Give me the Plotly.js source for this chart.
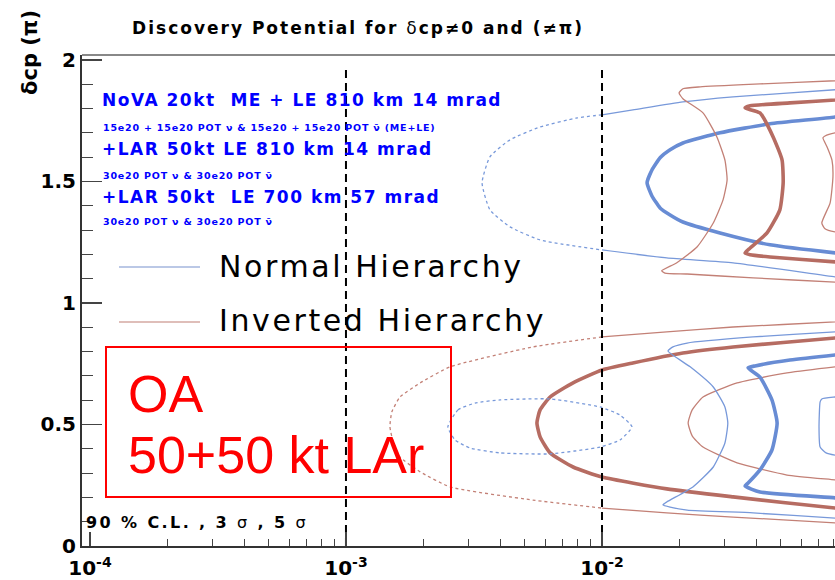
<!DOCTYPE html>
<html>
<head>
<meta charset="utf-8">
<script src="https://cdn.plot.ly/plotly-3.0.1.min.js"></script>
<style>
html, body { margin: 0; padding: 0; background: #fff; overflow: hidden; }
#chart { width: 835px; height: 580px; }
</style>
</head>
<body>
<div id="chart"></div>
<script>
// ---- Axis tick labels ----
const xTickVals = [1e-4, 1e-3, 1e-2];
const xTickText = ['10<sup>-4</sup>', '10<sup>-3</sup>', '10<sup>-2</sup>'];
const yTickVals = [0, 0.5, 1, 1.5, 2];
const yTickText = ['0', '0.5', '1', '1.5', '2'];

// Reference lines (sin^2 2theta13 = 1e-3, 1e-2)
const refLineX = [1e-3, 1e-2];
const refLineTop = 1.97;

// ---- Upper band (delta_cp ~ 1.5 pi) ----
// Normal hierarchy, 90% C.L.
const nhUp90X = [0.0889, 0.0813, 0.0325, 0.0207, 0.0132, 0.0100, 0.00798, 0.00573, 0.00437, 0.00365, 0.00340, 0.00365, 0.00437, 0.00573, 0.0100, 0.0179, 0.0325, 0.0813, 0.0889];
const nhUp90Y = [1.881, 1.877, 1.848, 1.827, 1.794, 1.774, 1.761, 1.724, 1.671, 1.601, 1.494, 1.383, 1.313, 1.259, 1.218, 1.185, 1.165, 1.107, 1.103];
// Normal hierarchy, 3 sigma
const nhUp3sX = [0.0889, 0.0813, 0.0453, 0.0289, 0.0207, 0.01845, 0.01686, 0.01567, 0.0150, 0.01567, 0.01686, 0.01845, 0.0207, 0.0289, 0.0453, 0.0813, 0.0889];
const nhUp3sY = [1.774, 1.765, 1.737, 1.700, 1.658, 1.630, 1.597, 1.547, 1.494, 1.440, 1.391, 1.362, 1.333, 1.288, 1.239, 1.206, 1.202];
// Inverted hierarchy, 90% C.L.
const ihUp90X = [0.0889, 0.0813, 0.0414, 0.0242, 0.0207, 0.0200, 0.0207, 0.0248, 0.0281, 0.0302, 0.0308, 0.0297, 0.0272, 0.0235, 0.0196, 0.0171, 0.0176, 0.0215, 0.0389, 0.0813, 0.0889];
const ihUp90Y = [1.918, 1.914, 1.901, 1.889, 1.881, 1.864, 1.840, 1.782, 1.683, 1.588, 1.506, 1.424, 1.329, 1.230, 1.165, 1.132, 1.123, 1.119, 1.103, 1.086, 1.086];
// Inverted hierarchy, 3 sigma
const ihUp3sX = [0.0889, 0.0813, 0.0542, 0.0379, 0.0362, 0.0414, 0.0466, 0.0505, 0.0510, 0.0495, 0.0441, 0.0379, 0.0362, 0.0379, 0.0453, 0.0813, 0.0889];
const ihUp3sY = [1.840, 1.835, 1.823, 1.811, 1.802, 1.782, 1.683, 1.588, 1.494, 1.383, 1.288, 1.226, 1.206, 1.198, 1.189, 1.169, 1.165];
// Inverted hierarchy, 5 sigma
const ihUp5sX = [0.0889, 0.0813, 0.0743, 0.0729, 0.0757, 0.0791, 0.0798, 0.0778, 0.0722, 0.0743, 0.0813, 0.0889];
const ihUp5sY = [1.704, 1.700, 1.687, 1.679, 1.642, 1.588, 1.519, 1.412, 1.329, 1.305, 1.292, 1.288];

// ---- Lower band (delta_cp ~ 0.5 pi) ----
// Normal hierarchy, small closed contour
const nhLoDotX = [0.00250, 0.00274, 0.00319, 0.00400, 0.00627, 0.00982, 0.01175, 0.0131, 0.01175, 0.00982, 0.00627, 0.00400, 0.00305, 0.00267, 0.00250];
const nhLoDotY = [0.490, 0.560, 0.588, 0.601, 0.605, 0.572, 0.539, 0.490, 0.436, 0.407, 0.379, 0.383, 0.403, 0.436, 0.490];
// Normal hierarchy, outer
const nhLo90X = [0.0889, 0.0813, 0.0389, 0.0215, 0.01892, 0.0181, 0.0221, 0.0272, 0.0302, 0.0310, 0.0302, 0.0272, 0.02265, 0.0179, 0.0173, 0.01845, 0.0215, 0.0389, 0.0813, 0.0889];
const nhLo90Y = [0.885, 0.881, 0.860, 0.835, 0.819, 0.802, 0.737, 0.654, 0.572, 0.506, 0.424, 0.325, 0.243, 0.181, 0.169, 0.160, 0.148, 0.136, 0.115, 0.115];
// Normal hierarchy, 3 sigma
const nhLo3sX = [0.0889, 0.0813, 0.0542, 0.0396, 0.0372, 0.0414, 0.0461, 0.0483, 0.0461, 0.0414, 0.0372, 0.0362, 0.0414, 0.0813, 0.0889];
const nhLo3sY = [0.790, 0.786, 0.765, 0.741, 0.733, 0.695, 0.601, 0.506, 0.395, 0.313, 0.259, 0.247, 0.222, 0.198, 0.193];
// Normal hierarchy, 5 sigma
const nhLo5sX = [0.0889, 0.0813, 0.0722, 0.0711, 0.0704, 0.0711, 0.0750, 0.0813, 0.0889];
const nhLo5sY = [0.617, 0.613, 0.605, 0.593, 0.490, 0.407, 0.383, 0.374, 0.370];
// Inverted hierarchy, 90% C.L.
const ihLo90X = [0.0889, 0.0813, 0.0325, 0.0179, 0.0100, 0.00537, 0.00255, 0.00195, 0.001625, 0.00151, 0.001485, 0.00153, 0.001625, 0.00195, 0.00255, 0.00537, 0.0100, 0.0179, 0.0325, 0.0813, 0.0889];
const ihLo90Y = [0.926, 0.922, 0.901, 0.881, 0.860, 0.819, 0.737, 0.671, 0.613, 0.551, 0.490, 0.428, 0.366, 0.305, 0.243, 0.189, 0.156, 0.136, 0.119, 0.095, 0.091];
// Inverted hierarchy, 3 sigma
const ihLo3sX = [0.0889, 0.0813, 0.0325, 0.0207, 0.0132, 0.0100, 0.00771, 0.00627, 0.00573, 0.00557, 0.00573, 0.00627, 0.00771, 0.0100, 0.0179, 0.0325, 0.0813, 0.0889];
const ihLo3sY = [0.860, 0.856, 0.819, 0.794, 0.753, 0.724, 0.671, 0.613, 0.560, 0.506, 0.449, 0.383, 0.325, 0.284, 0.235, 0.202, 0.156, 0.152];
// Inverted hierarchy, 5 sigma
const ihLo5sX = [0.0889, 0.0813, 0.0528, 0.0337, 0.0248, 0.0225, 0.0217, 0.0225, 0.0248, 0.0337, 0.0528, 0.0813, 0.0889];
const ihLo5sY = [0.741, 0.737, 0.712, 0.671, 0.613, 0.560, 0.506, 0.453, 0.407, 0.342, 0.292, 0.272, 0.267];

// ---- Styling ----
const BLUE = 'rgb(104,140,212)';
const BLUE_LT = 'rgb(120,153,218)';
const RED = 'rgb(182,108,98)';
const RED_LT = 'rgb(195,128,118)';
const THIN = 1.3, THICK = 3.6;

// contour list: [x, y, colour, width, dotted index range or null]
const contours = [
  [nhUp90X, nhUp90Y, BLUE_LT, THIN, [5, 14]],
  [nhUp3sX, nhUp3sY, BLUE, THICK, null],
  [ihUp90X, ihUp90Y, RED_LT, THIN, null],
  [ihUp3sX, ihUp3sY, RED, THICK, null],
  [ihUp5sX, ihUp5sY, RED_LT, THIN, null],
  [ihLo90X, ihLo90Y, RED_LT, THIN, [4, 16]],
  [ihLo3sX, ihLo3sY, RED, THICK, null],
  [ihLo5sX, ihLo5sY, RED_LT, THIN, null],
  [nhLoDotX, nhLoDotY, BLUE_LT, THIN, [0, nhLoDotX.length - 1]],
  [nhLo90X, nhLo90Y, BLUE_LT, THIN, null],
  [nhLo3sX, nhLo3sY, BLUE, THICK, null],
  [nhLo5sX, nhLo5sY, BLUE_LT, THIN, null]
];

const traces = [];
function seg(x, y, a, b, color, width, dash) {
  if (b <= a) return;
  traces.push({
    type: 'scatter', mode: 'lines', hoverinfo: 'skip', showlegend: false,
    x: x.slice(a, b + 1), y: y.slice(a, b + 1),
    line: { color: color, width: width, dash: dash, shape: 'spline', smoothing: 0.5 }
  });
}
contours.forEach(([x, y, c, w, dot]) => {
  const n = x.length - 1;
  if (!dot) { seg(x, y, 0, n, c, w, 'solid'); return; }
  seg(x, y, 0, dot[0], c, w, 'solid');
  seg(x, y, dot[0], dot[1], c, w, 'dot');
  seg(x, y, dot[1], n, c, w, 'solid');
});

refLineX.forEach(v => traces.push({
  type: 'scatter', mode: 'lines', hoverinfo: 'skip', showlegend: false,
  x: [v, v], y: [0, refLineTop],
  line: { color: '#000', width: 2, dash: '8px,5px' }
}));

// minor ticks on the log axis: 2..9 x 10^k
const minorX = [];
for (let k = -4; k <= -1; k++) for (let m = 2; m <= 9; m++) minorX.push(m * Math.pow(10, k));

// pixel -> paper helpers for the plot frame (left 82, right 835, top 55, bottom 546)
const L = 82, R = 835, T = 55, B = 546;
const px = v => (v - L) / (R - L);
const py = v => (B - v) / (B - T);

const DJ = 'DejaVu Sans, Verdana, sans-serif';
const AR = 'Liberation Sans, Arial, sans-serif';
const BLUE_TXT = 'rgb(0,0,255)';

// widen text tracking the way the original ROOT output looks
const wide = (s, ls) => '<span style="letter-spacing:' + ls + 'px">' + s + '</span>';

function note(text, x, y, size, color, family, extra) {
  return Object.assign({
    text: text, xref: 'paper', yref: 'paper', x: px(x), y: py(y),
    xanchor: 'left', yanchor: 'middle', showarrow: false,
    font: { family: family || DJ, size: size, color: color || '#000' }
  }, extra || {});
}

const sp = '\u00a0';
const annotations = [
  note(wide('<b>NoVA 20kt ' + sp + 'ME + LE 810 km 14 mrad</b>', 1.5), 100, 100, 17, BLUE_TXT),
  note(wide('<b>15e20 + 15e20 POT ν &amp; 15e20 + 15e20 POT ν̄ (ME+LE)</b>', 0.8), 101, 127, 9.5, BLUE_TXT),
  note(wide('<b>+LAR 50kt LE 810 km 14 mrad</b>', 1.5), 100, 149, 17, BLUE_TXT),
  note(wide('<b>30e20 POT ν &amp; 30e20 POT ν̄</b>', 0.8), 101, 175, 9.5, BLUE_TXT),
  note(wide('<b>+LAR 50kt ' + sp + 'LE 700 km 57 mrad</b>', 1.5), 100, 197, 17, BLUE_TXT),
  note(wide('<b>30e20 POT ν &amp; 30e20 POT ν̄</b>', 0.8), 101, 222, 9.5, BLUE_TXT),
  note(wide('Normal Hierarchy', 2.6), 217, 266, 30, '#000'),
  note(wide('Inverted Hierarchy', 2.6), 217, 320, 30, '#000'),
  note('OA', 126, 394, 52, 'rgb(255,0,0)', AR),
  note('50+50 kt LAr', 126, 455, 52, 'rgb(255,0,0)', AR),
  note(wide('<b>90 % C.L. , 3 </b>σ<b> , 5 </b>σ', 2.4), 84, 522, 16, '#000'),
  note('<b>δcp (π)</b>', 30, 53, 21, '#000', DJ, { xanchor: 'center', textangle: -90 })
];

const shapes = [
  // top frame
  { type: 'line', xref: 'paper', yref: 'paper', x0: 0, x1: 1, y0: 1, y1: 1, line: { color: '#888', width: 2 } },
  // legend samples
  { type: 'line', xref: 'paper', yref: 'paper', x0: px(119), x1: px(200), y0: py(267), y1: py(267), line: { color: 'rgb(165,182,222)', width: 1.5 } },
  { type: 'line', xref: 'paper', yref: 'paper', x0: px(119), x1: px(200), y0: py(322), y1: py(322), line: { color: 'rgb(212,168,162)', width: 1.5 } },
  // OA label box
  { type: 'rect', xref: 'paper', yref: 'paper', x0: px(106), x1: px(451), y0: py(497), y1: py(347), line: { color: 'rgb(255,0,0)', width: 2 } }
];

const tickFont = { family: DJ, size: 20, color: '#000', weight: 'bold' };

const layout = {
  width: 835, height: 580,
  margin: { l: L, r: 0, t: T, b: 580 - B, pad: 0 },
  paper_bgcolor: '#fff', plot_bgcolor: '#fff',
  showlegend: false,
  title: {
    text: wide('<b>Discovery Potential for </b>δ<b>cp≠0 and (≠π)</b>', 2),
    font: { family: DJ, size: 17, color: '#000' },
    xref: 'container', yref: 'container', x: 358 / 835, y: 1 - 28 / 580,
    xanchor: 'center', yanchor: 'middle'
  },
  xaxis: {
    type: 'log', range: [-4.031, -1.090],
    tickmode: 'array', tickvals: xTickVals, ticktext: xTickText,
    ticks: 'inside', ticklen: 14, tickwidth: 1.5, tickcolor: '#444',
    ticklabelstandoff: 3,
    minor: { tickmode: 'array', tickvals: minorX, ticks: 'inside', ticklen: 7, tickwidth: 1, tickcolor: '#444', showgrid: false },
    showline: true, linecolor: '#333', linewidth: 2,
    showgrid: false, zeroline: false, tickfont: tickFont
  },
  yaxis: {
    range: [0, 2.02],
    tickmode: 'array', tickvals: yTickVals, ticktext: yTickText,
    ticks: 'inside', ticklen: 20, tickwidth: 1.5, tickcolor: '#444',
    minor: { tickmode: 'linear', tick0: 0, dtick: 0.1, ticks: 'inside', ticklen: 11, tickwidth: 1, tickcolor: '#444', showgrid: false },
    showline: true, linecolor: '#333', linewidth: 2,
    showgrid: false, zeroline: false, tickfont: tickFont
  },
  annotations: annotations,
  shapes: shapes
};

Plotly.newPlot('chart', traces, layout, { displayModeBar: false, staticPlot: true });
</script>
</body>
</html>
